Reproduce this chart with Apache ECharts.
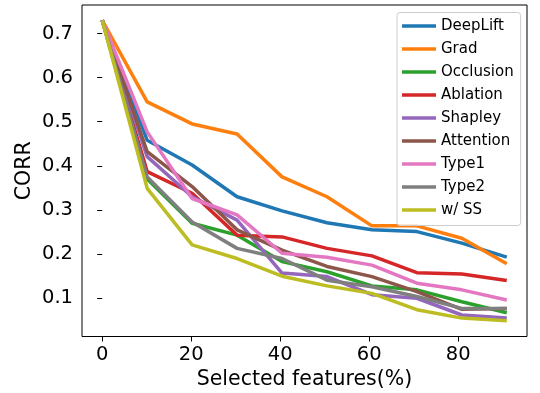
<!DOCTYPE html>
<html>
<head>
<meta charset="utf-8">
<script src="https://cdn.jsdelivr.net/npm/echarts@6/dist/echarts.min.js"></script>
<style>html,body{margin:0;padding:0;background:#fff}#c{width:540px;height:393px}</style>
</head>
<body>
<div id="c"></div>
<script>
const xValues = [0, 10.1, 20.2, 30.3, 40.4, 50.5, 60.6, 70.7, 80.8, 90.9];
const seriesNames = ['DeepLift', 'Grad', 'Occlusion', 'Ablation', 'Shapley', 'Attention', 'Type1', 'Type2', 'w/ SS'];
const deepLift  = [0.73, 0.458, 0.402, 0.330, 0.298, 0.271, 0.255, 0.251, 0.225, 0.193];
const grad      = [0.73, 0.545, 0.495, 0.472, 0.375, 0.330, 0.264, 0.264, 0.236, 0.178];
const occlusion = [0.73, 0.370, 0.270, 0.243, 0.183, 0.160, 0.128, 0.119, 0.092, 0.067];
const ablation  = [0.73, 0.387, 0.338, 0.243, 0.239, 0.213, 0.196, 0.158, 0.155, 0.140];
const shapley   = [0.73, 0.421, 0.330, 0.277, 0.157, 0.149, 0.108, 0.100, 0.062, 0.055];
const attention = [0.73, 0.432, 0.353, 0.255, 0.209, 0.172, 0.149, 0.115, 0.075, 0.077];
const type1     = [0.73, 0.477, 0.326, 0.289, 0.202, 0.193, 0.175, 0.134, 0.119, 0.096];
const type2     = [0.73, 0.375, 0.273, 0.213, 0.190, 0.141, 0.126, 0.104, 0.077, 0.077];
const withSS    = [0.73, 0.349, 0.221, 0.190, 0.150, 0.128, 0.111, 0.074, 0.055, 0.049];
const xTicks = [0, 20, 40, 60, 80];
const yTicks = [0.1, 0.2, 0.3, 0.4, 0.5, 0.6, 0.7];

const allValues = [deepLift, grad, occlusion, ablation, shapley, attention, type1, type2, withSS];
const colors = ['#1f77b4', '#ff7f0e', '#2ca02c', '#d62728', '#9467bd', '#8c564b', '#e377c2', '#7f7f7f', '#bcbd22'];
const font = 'DejaVu Sans';

const chart = echarts.init(document.getElementById('c'), null, {renderer: 'canvas'});
chart.setOption({
  animation: false,
  backgroundColor: '#fff',
  color: colors,
  grid: {left: 82, right: 13, top: 5, bottom: 56.5, show: true, borderColor: '#000', borderWidth: 1, containLabel: false, outerBoundsMode: 'none'},
  legend: {
    orient: 'vertical', left: 397, top: 12.5,
    data: seriesNames.map(n => ({name: n, icon: 'rect'})),
    itemWidth: 34, itemHeight: 3.5, itemGap: 8, itemTextGap: 11,
    padding: [6, 7, 8, 5],
    borderColor: '#cccccc', borderWidth: 1, borderRadius: 3,
    backgroundColor: 'rgba(255,255,255,0.8)',
    textStyle: {fontFamily: font, fontSize: 15, color: '#000', lineHeight: 15}
  },
  xAxis: {
    type: 'value', min: -4.545, max: 95.445,
    name: 'Selected features(%)', nameLocation: 'middle', nameGap: 33, nameMoveOverlap: false,
    nameTextStyle: {fontFamily: font, fontSize: 20.5, color: '#000'},
    axisLine: {show: false},
    axisTick: {show: true, inside: false, length: 5, lineStyle: {color: '#000', width: 1}, customValues: xTicks},
    axisLabel: {fontFamily: font, fontSize: 19.5, color: '#000', margin: 8, customValues: xTicks, formatter: v => String(v)},
    splitLine: {show: false}
  },
  yAxis: {
    type: 'value', min: 0.0133, max: 0.7645,
    name: 'CORR', nameLocation: 'middle', nameGap: 47, nameMoveOverlap: false,
    nameTextStyle: {fontFamily: font, fontSize: 20.5, color: '#000'},
    axisLine: {show: false},
    axisTick: {show: true, inside: false, length: 5, lineStyle: {color: '#000', width: 1}, customValues: yTicks},
    axisLabel: {fontFamily: font, fontSize: 19.5, color: '#000', margin: 9, customValues: yTicks, formatter: v => v.toFixed(1)},
    splitLine: {show: false}
  },
  series: seriesNames.map((name, i) => ({
    name: name, type: 'line', showSymbol: false, symbol: 'none',
    lineStyle: {width: 3.5, color: colors[i]},
    itemStyle: {color: colors[i]},
    data: xValues.map((x, j) => [x, allValues[i][j]])
  }))
});
</script>
</body>
</html>
